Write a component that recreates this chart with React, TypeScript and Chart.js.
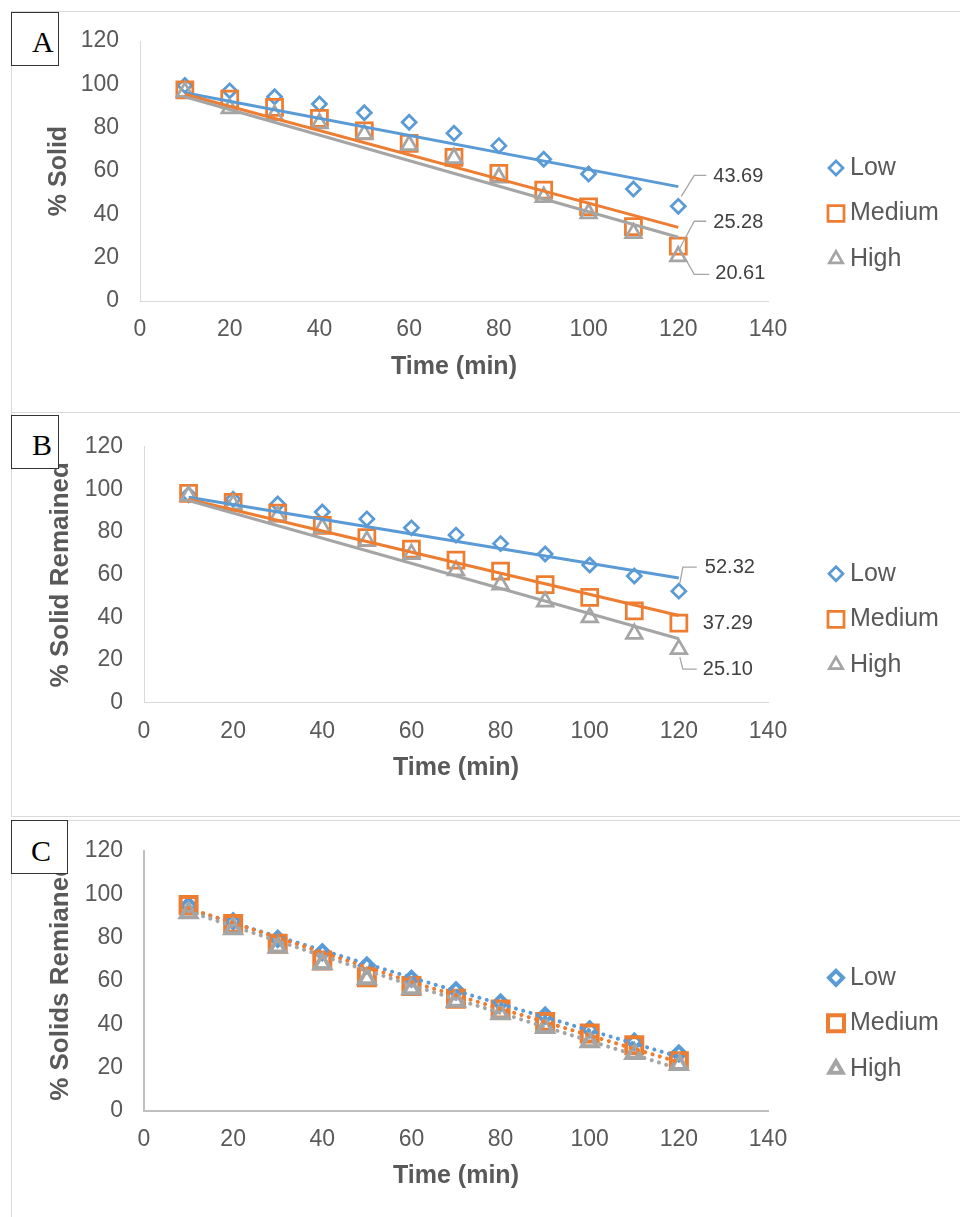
import React, { useEffect, useRef } from 'react';
import { Chart, registerables } from 'chart.js';

Chart.register(...registerables);

// ---------------- data ----------------
const TIME_MIN = [10, 20, 30, 40, 50, 60, 70, 80, 90, 100, 110, 120];
const SERIES_NAMES = ['Low', 'Medium', 'High'];
const X_TICK_VALUES = [0, 20, 40, 60, 80, 100, 120, 140];
const Y_TICK_VALUES = [0, 20, 40, 60, 80, 100, 120];
const X_TITLE = 'Time (min)';

// Panel A
const A_Y_TITLE = '% Solid';
const A_LOW = [99.5, 97.0, 94.3, 90.9, 86.9, 82.5, 77.4, 71.7, 65.4, 58.6, 51.7, 43.69];
const A_MEDIUM = [97.4, 93.2, 89.4, 84.3, 78.5, 72.8, 66.3, 58.9, 51.2, 43.5, 34.3, 25.28];
const A_HIGH = [96.5, 88.9, 85.8, 82.0, 77.0, 72.0, 66.0, 57.0, 48.0, 40.5, 31.3, 20.61];
const A_FIT_X = [10, 120];
const A_FIT_LOW = [96.1, 52.8];
const A_FIT_MEDIUM = [95.4, 34.0];
const A_FIT_HIGH = [94.3, 29.4];

// Panel B
const B_Y_TITLE = '% Solid Remained';
const B_LOW = [97.5, 95.4, 93.2, 89.4, 86.2, 82.0, 78.6, 74.6, 69.7, 64.6, 59.4, 52.32];
const B_MEDIUM = [98.2, 93.9, 88.9, 83.1, 77.4, 72.0, 66.9, 61.7, 55.4, 49.4, 43.1, 37.29];
const B_HIGH = [97.0, 93.0, 87.4, 82.0, 75.9, 69.7, 62.0, 55.4, 47.4, 40.0, 32.3, 25.10];
const B_FIT_X = [10, 120];
const B_FIT_LOW = [96.3, 58.5];
const B_FIT_MEDIUM = [95.4, 40.9];
const B_FIT_HIGH = [94.8, 30.0];

// Panel C
const C_Y_TITLE = '% Solids Remianed';
const C_LOW = [94.7, 87.5, 79.4, 73.2, 67.1, 61.0, 55.6, 50.0, 44.0, 37.7, 32.0, 26.5];
const C_MEDIUM = [95.0, 86.3, 77.1, 69.4, 61.7, 57.6, 51.8, 46.8, 41.1, 35.7, 30.3, 23.0];
const C_HIGH = [91.4, 84.0, 75.5, 67.9, 61.0, 56.4, 50.6, 44.9, 38.5, 31.9, 26.5, 21.5];
const C_FIT_X = [10, 60, 120];
const C_FIT_LOW = [93.0, 61.5, 25.0];
const C_FIT_MEDIUM = [93.5, 59.5, 22.5];
const C_FIT_HIGH = [92.0, 58.0, 19.5];

// ---------------- styles ----------------
const BLUE = '#5b9bd5';
const ORANGE = '#ed7d31';
const GRAY = '#a5a5a5';
const TEXT = '#595959';
const SANS = '"Liberation Sans", Arial, sans-serif';

type LabelSpec = { dx: number; dy: number; leader?: number[][] };

type PanelSpec = {
  key: string;
  canvasTop: number;
  height: number;
  area: { left: number; right: number; top: number; bottom: number };
  yTitle: string;
  yTitleSize: number;
  yTitlePad: number;
  xTitlePad: number;
  axisColor: string;
  axisWidth: number;
  dotted: boolean;
  markerWidth: number;
  low: number[];
  medium: number[];
  high: number[];
  fitX: number[];
  fitLow: number[];
  fitMedium: number[];
  fitHigh: number[];
  labels: (LabelSpec | null)[];
};

const PANELS: PanelSpec[] = [
  {
    key: 'A', canvasTop: 0, height: 412,
    area: { left: 140, right: 768, top: 41, bottom: 301 },
    yTitle: A_Y_TITLE, yTitleSize: 25, yTitlePad: 44, xTitlePad: 19,
    axisColor: '#d9d9d9', axisWidth: 1, dotted: false, markerWidth: 2.75,
    low: A_LOW, medium: A_MEDIUM, high: A_HIGH,
    fitX: A_FIT_X, fitLow: A_FIT_LOW, fitMedium: A_FIT_MEDIUM, fitHigh: A_FIT_HIGH,
    labels: [
      { dx: 35, dy: -30, leader: [[3, -10], [16, -31], [28, -31]] },
      { dx: 35, dy: -24, leader: [[1, 3], [16, -25], [28, -25]] },
      { dx: 37, dy: 17, leader: [[8, 4], [16, 18], [31, 18]] },
    ],
  },
  {
    key: 'B', canvasTop: 412, height: 404,
    area: { left: 144, right: 768, top: 442.7, bottom: 702.7 },
    yTitle: B_Y_TITLE, yTitleSize: 26, yTitlePad: 45, xTitlePad: 20,
    axisColor: '#d9d9d9', axisWidth: 1, dotted: false, markerWidth: 2.75,
    low: B_LOW, medium: B_MEDIUM, high: B_HIGH,
    fitX: B_FIT_X, fitLow: B_FIT_LOW, fitMedium: B_FIT_MEDIUM, fitHigh: B_FIT_HIGH,
    labels: [
      { dx: 26, dy: -24, leader: [[1, -8], [4, -24], [18, -24]] },
      { dx: 24, dy: 0 },
      { dx: 24, dy: 20, leader: [[1, 8], [4, 20], [18, 20]] },
    ],
  },
  {
    key: 'C', canvasTop: 816, height: 401,
    area: { left: 144, right: 768, top: 850, bottom: 1111 },
    yTitle: C_Y_TITLE, yTitleSize: 26, yTitlePad: 45, xTitlePad: 20,
    axisColor: '#bfbfbf', axisWidth: 2, dotted: true, markerWidth: 4,
    low: C_LOW, medium: C_MEDIUM, high: C_HIGH,
    fitX: C_FIT_X, fitLow: C_FIT_LOW, fitMedium: C_FIT_MEDIUM, fitHigh: C_FIT_HIGH,
    labels: [null, null, null],
  },
];

const MARKERS = [
  { style: 'rectRot', radius: 7, color: BLUE },
  { style: 'rect', radius: 11.3, color: ORANGE },
  { style: 'triangle', radius: 9, color: GRAY },
];

function markerPath(ctx: CanvasRenderingContext2D, style: string, x: number, y: number, r: number) {
  ctx.beginPath();
  if (style === 'rectRot') {
    ctx.moveTo(x, y - r);
    ctx.lineTo(x + r, y);
    ctx.lineTo(x, y + r);
    ctx.lineTo(x - r, y);
    ctx.closePath();
  } else if (style === 'rect') {
    const s = r * Math.SQRT1_2;
    ctx.rect(x - s, y - s, 2 * s, 2 * s);
  } else {
    for (let k = 0; k < 3; k++) {
      const a = (k * 2 * Math.PI) / 3;
      const px = x + Math.sin(a) * r;
      const py = y - Math.cos(a) * r;
      if (k === 0) ctx.moveTo(px, py);
      else ctx.lineTo(px, py);
    }
    ctx.closePath();
  }
}

const decoPlugin = {
  id: 'deco',
  afterDatasetsDraw(chart: any, _args: any, opts: any) {
    const ctx: CanvasRenderingContext2D = chart.ctx;
    const area = chart.chartArea;
    ctx.save();
    // legend
    opts.legend.forEach((it: any, i: number) => {
      const cy = area.top + 127 + i * 45.5;
      ctx.lineWidth = it.width;
      ctx.strokeStyle = it.color;
      ctx.lineJoin = 'miter';
      markerPath(ctx, it.style, 836, cy, it.radius * it.legendScale);
      ctx.stroke();
      ctx.fillStyle = TEXT;
      ctx.font = `25px ${SANS}`;
      ctx.textAlign = 'left';
      ctx.textBaseline = 'middle';
      ctx.fillText(it.text, 850, cy);
    });
    // data labels with leader lines
    opts.labels.forEach((lb: any) => {
      if (!lb) return;
      const meta = chart.getDatasetMeta(lb.ds);
      const el = meta.data[meta.data.length - 1];
      const raw = chart.data.datasets[lb.ds].data[meta.data.length - 1];
      const px = el.x;
      const py = el.y;
      if (lb.leader) {
        ctx.beginPath();
        ctx.strokeStyle = '#a6a6a6';
        ctx.lineWidth = 1.3;
        lb.leader.forEach((pt: number[], k: number) => {
          if (k === 0) ctx.moveTo(px + pt[0], py + pt[1]);
          else ctx.lineTo(px + pt[0], py + pt[1]);
        });
        ctx.stroke();
      }
      ctx.fillStyle = '#404040';
      ctx.font = `20px ${SANS}`;
      ctx.textAlign = 'left';
      ctx.textBaseline = 'middle';
      ctx.fillText(Number(raw.y).toFixed(2), px + lb.dx, py + lb.dy);
    });
    ctx.restore();
  },
};

function makeConfig(p: PanelSpec): any {
  const pts = (ys: number[]) => TIME_MIN.map((x, i) => ({ x, y: ys[i] }));
  const fit = (ys: number[]) => p.fitX.map((x, i) => ({ x, y: ys[i] }));
  const seriesVals = [p.low, p.medium, p.high];
  const fitVals = [p.fitLow, p.fitMedium, p.fitHigh];
  const markerSets = seriesVals.map((vals, i) => ({
    label: SERIES_NAMES[i],
    data: pts(vals),
    showLine: false,
    pointStyle: MARKERS[i].style,
    pointRadius: MARKERS[i].radius,
    pointBorderWidth: p.markerWidth,
    pointBorderColor: MARKERS[i].color,
    pointBackgroundColor: 'rgba(0,0,0,0)',
    borderColor: MARKERS[i].color,
    backgroundColor: 'rgba(0,0,0,0)',
    order: 6 - i,
  }));
  const fitSets = fitVals.map((vals, i) => ({
    label: SERIES_NAMES[i] + ' fit',
    data: fit(vals),
    showLine: true,
    pointRadius: 0,
    borderColor: MARKERS[i].color,
    borderWidth: p.dotted ? 4 : 3,
    borderDash: p.dotted ? [0.1, 7.5] : [],
    borderCapStyle: p.dotted ? 'round' : 'butt',
    fill: false,
    tension: 0,
    order: 3 - i,
  }));
  const tickFont = { family: SANS, size: 23 };
  return {
    type: 'scatter',
    data: { datasets: [...markerSets, ...fitSets] },
    plugins: [decoPlugin],
    options: {
      animation: false,
      responsive: false,
      maintainAspectRatio: false,
      devicePixelRatio: 1,
      events: [],
      layout: {
        padding: {
          left: 0,
          top: p.area.top - p.canvasTop,
          right: 960 - p.area.right,
          bottom: p.canvasTop + p.height - p.area.bottom - 100,
        },
      },
      plugins: {
        legend: { display: false },
        tooltip: { enabled: false },
        deco: {
          legend: MARKERS.map((m, i) => ({
            text: SERIES_NAMES[i], style: m.style, radius: m.radius, color: m.color,
            width: p.markerWidth, legendScale: m.style === 'triangle' ? 0.85 : 1,
          })),
          labels: p.labels.map((l, i) => (l ? { ...l, ds: i } : null)),
        },
      },
      scales: {
        x: {
          type: 'linear',
          min: X_TICK_VALUES[0],
          max: X_TICK_VALUES[X_TICK_VALUES.length - 1],
          ticks: { stepSize: X_TICK_VALUES[1] - X_TICK_VALUES[0], padding: 15, color: TEXT, font: tickFont },
          grid: { display: true, color: 'rgba(0,0,0,0)', drawTicks: false },
          border: { display: true, color: p.axisColor, width: p.axisWidth },
          title: {
            display: true, text: X_TITLE, color: TEXT,
            font: { family: SANS, size: 25, weight: 'bold' },
            padding: { top: 0, bottom: p.xTitlePad },
          },
          afterFit: (s: any) => { s.height = 100; },
        },
        y: {
          type: 'linear',
          min: Y_TICK_VALUES[0],
          max: Y_TICK_VALUES[Y_TICK_VALUES.length - 1],
          ticks: { stepSize: Y_TICK_VALUES[1] - Y_TICK_VALUES[0], padding: 21, color: TEXT, font: tickFont },
          grid: { display: true, color: 'rgba(0,0,0,0)', drawTicks: false },
          border: { display: true, color: p.axisColor, width: p.axisWidth },
          title: {
            display: true, text: p.yTitle, color: TEXT,
            font: { family: SANS, size: p.yTitleSize, weight: 'bold' },
            padding: { top: p.yTitlePad, bottom: 0 },
          },
          afterFit: (s: any) => { s.width = p.area.left; },
        },
      },
    },
  };
}

function ChartPanel({ p }: { p: PanelSpec }) {
  const ref = useRef<HTMLCanvasElement>(null);
  useEffect(() => {
    const chart = new Chart(ref.current as HTMLCanvasElement, makeConfig(p));
    return () => chart.destroy();
  }, [p]);
  return (
    <canvas
      ref={ref}
      width={960}
      height={p.height}
      style={{ position: 'absolute', left: 0, top: p.canvasTop, width: 960, height: p.height }}
    />
  );
}

const FRAMES = [
  { top: 11, height: 402, bottom: false },
  { top: 412, height: 405, bottom: true },
  { top: 820, height: 500, bottom: false },
];

const LETTERS = [
  { text: 'A', left: 11, top: 12, width: 48, height: 54, tx: 20, cy: 42 },
  { text: 'B', left: 11, top: 415, width: 48, height: 54, tx: 20, cy: 445 },
  { text: 'C', left: 11, top: 820, width: 57, height: 54, tx: 19, cy: 851 },
];

export default function App() {
  return (
    <div style={{ position: 'absolute', left: 0, top: 0, width: 960, height: 1217, overflow: 'hidden', background: '#fff' }}>
      {FRAMES.map((f, i) => (
        <div
          key={'f' + i}
          style={{
            position: 'absolute', left: 11, top: f.top, width: 1000, height: f.height, boxSizing: 'border-box',
            borderLeft: '1px solid #d9d9d9', borderTop: '1px solid #d9d9d9',
            borderBottom: f.bottom ? '1px solid #d9d9d9' : 'none',
          }}
        />
      ))}
      {PANELS.map((p) => (
        <ChartPanel key={p.key} p={p} />
      ))}
      {LETTERS.map((l) => (
        <div
          key={l.text}
          style={{
            position: 'absolute', left: l.left, top: l.top, width: l.width, height: l.height,
            boxSizing: 'border-box', border: '1px solid #333', background: '#fff',
          }}
        >
          <div
            style={{
              position: 'absolute', left: l.tx, top: l.cy - l.top - 16, fontFamily: '"Liberation Serif", "Times New Roman", serif',
              fontSize: 30, lineHeight: '30px', color: '#000',
            }}
          >
            {l.text}
          </div>
        </div>
      ))}
    </div>
  );
}
